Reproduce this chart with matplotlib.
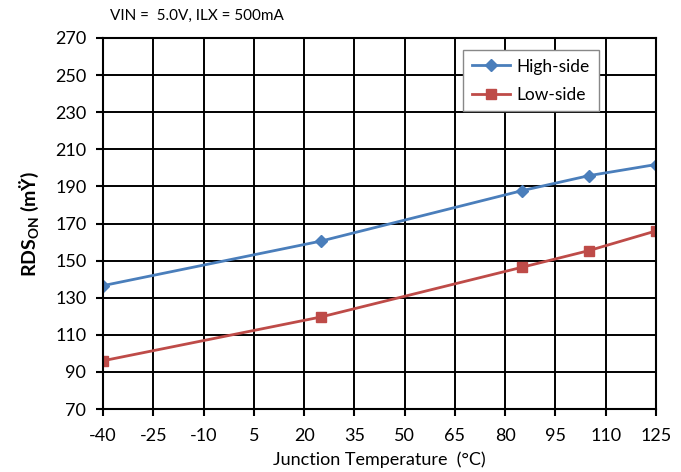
import matplotlib
matplotlib.use("Agg")
import matplotlib.pyplot as plt

plt.rcParams['font.family'] = ['Lato', 'DejaVu Sans']
plt.rcParams['mathtext.fontset'] = 'custom'
plt.rcParams['mathtext.rm'] = 'Lato'
plt.rcParams['mathtext.bf'] = 'Lato:bold'
plt.rcParams['axes.unicode_minus'] = False

# values
temp = [-40, 25, 85, 105, 125]
high_side = [136.5, 160.5, 187.7, 195.8, 201.8]
low_side = [96, 119.6, 146.4, 155.4, 166.0]
x_ticks = [-40, -25, -10, 5, 20, 35, 50, 65, 80, 95, 110, 125]
y_ticks = list(range(70, 271, 20))

fig = plt.figure(figsize=(6.81, 4.72), dpi=100)
ax = fig.add_axes([103 / 681, 1 - 409 / 472, 553 / 681, 371 / 472])

ax.plot(temp, high_side, color='#4a7ebb', lw=2, marker='D', ms=6, label='High-side')
ax.plot(temp, low_side, color='#be4b48', lw=2, marker='s', ms=7.5, label='Low-side')

ax.set_xlim(-40, 125)
ax.set_ylim(70, 270)
ax.set_xticks(x_ticks)
ax.set_yticks(y_ticks)
ax.tick_params(axis='both', labelsize=13, length=5, width=1.5, color='black', direction='out')
ax.tick_params(axis='x', pad=9)
ax.tick_params(axis='y', pad=7)
ax.grid(True, color='black', lw=1.4)
ax.set_axisbelow(True)
for s in ax.spines.values():
    s.set_linewidth(1.5)
    s.set_color('black')

ax.set_xlabel('Junction Temperature  (°C)', fontsize=13, labelpad=5)
ax.set_ylabel(r'RDS$_{\mathbf{ON}}$ (mŸ)', fontsize=14, fontweight='bold', labelpad=10)
fig.text(110 / 681, 1 - 16 / 472, 'VIN =  5.0V, ILX = 500mA', fontsize=11, va='center')

leg = ax.legend(loc='upper left', bbox_to_anchor=(0.651, 0.968), borderaxespad=0,
                fontsize=12.5, frameon=True, fancybox=False, edgecolor='#888888',
                framealpha=1, borderpad=0.5, handlelength=2.2, handletextpad=0.4,
                labelspacing=0.7)
leg.get_frame().set_linewidth(1)

fig.savefig('out.png', dpi=100)
